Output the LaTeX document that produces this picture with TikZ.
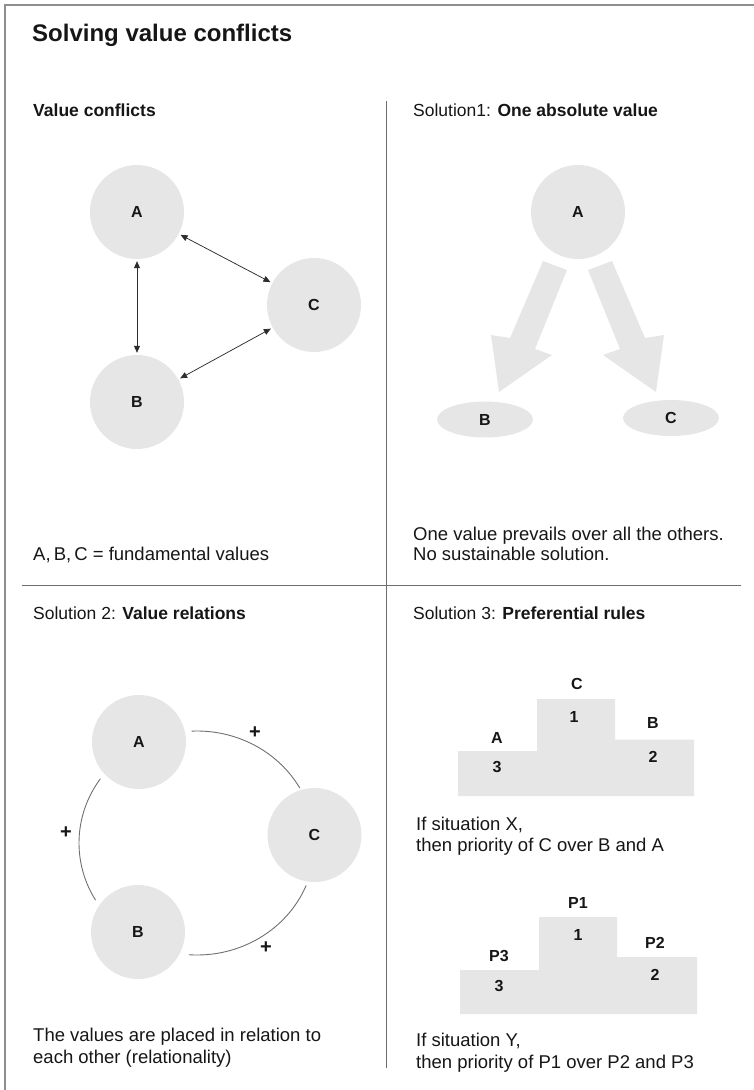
\documentclass[tikz,border=0pt]{standalone}
\usepackage{fontspec}
\setmainfont{Liberation Sans}
\usetikzlibrary{arrows.meta,shapes.geometric}
\definecolor{shade}{HTML}{E6E6E6}
\definecolor{ink}{HTML}{161616}
\definecolor{rulec}{HTML}{6E6E6E}
\definecolor{framec}{HTML}{8F8F8F}
\definecolor{arcc}{HTML}{707070}

\begin{document}
\begin{tikzpicture}[x=1pt,y=1pt,
  value/.style={circle, fill=shade, minimum size=94pt, inner sep=0pt,
    font=\bfseries\fontsize{16}{18}\selectfont, text=ink},
  flat/.style={ellipse, fill=shade, minimum width=96pt, minimum height=36pt,
    inner sep=0pt, font=\bfseries\fontsize{16}{18}\selectfont, text=ink},
  conflict/.style={{Triangle[length=7pt,width=6pt]}-{Triangle[length=7pt,width=6pt]},
    line width=0.75pt, draw=ink!90, shorten <=2pt, shorten >=2pt},
  relation/.style={draw=arcc, line width=0.9pt},
  heading/.style={anchor=base west, inner sep=0pt,
    font=\fontsize{17.5}{20}\selectfont, text=ink},
  body/.style={anchor=base west, inner sep=0pt,
    font=\fontsize{18.5}{22}\selectfont, text=ink},
  lab/.style={inner sep=0pt, font=\bfseries\fontsize{16}{18}\selectfont, text=ink},
  plus/.style={inner sep=0pt, font=\bfseries\fontsize{20}{22}\selectfont, text=ink},
  block/.style={fill=shade, draw=none},
  bigarrow/.style={fill=shade, draw=none},
]
\useasboundingbox (0,0) rectangle (754,-1090);

% page frame and quadrant rules
\draw[framec, line width=1.6pt] (5,-1090) -- (5,-5) -- (754,-5);
\draw[rulec, line width=1pt] (386,-101) -- (386,-1068);
\draw[rulec, line width=1pt] (22,-585) -- (741,-585);

% title
\node[anchor=base west, inner sep=0pt, font=\bfseries\fontsize{24}{28}\selectfont, text=ink]
  (title) at (32,-41) {Solving value conflicts};

% ---------- value conflicts ----------
\node[heading] (h1) at (33,-116) {\bfseries Value conflicts};
\node[value] (a1) at (137,-212) {A};
\node[value] (b1) at (137,-402) {B};
\node[value] (c1) at (314,-305) {C};
\draw[conflict] (a1) -- (b1);
\draw[conflict] (a1) -- (c1);
\draw[conflict] (b1) -- (c1);
\node[body] (n1) at (33,-560) {A,\,B,\,C = fundamental values};

% ---------- solution 1 ----------
\node[heading] (h2) at (413,-116) {Solution1: \textbf{One absolute value}};
\node[value] (a2) at (578,-212) {A};
\node[flat] (b2) at (485,-419.5) {B};
\node[flat] (c2) at (671,-418) {C};
\fill[bigarrow] (543,-261) -- (567,-270) -- (535,-349) -- (552,-355)
  -- (499,-392) -- (491,-335) -- (510,-338) -- cycle;
\fill[bigarrow] (612,-261) -- (588,-270) -- (620,-349) -- (603,-355)
  -- (656,-392) -- (664,-335) -- (645,-338) -- cycle;
\node[body] (n2a) at (413,-540) {One value prevails over all the others.};
\node[body] (n2b) at (413,-560) {No sustainable solution.};

% ---------- solution 2 ----------
\node[heading] (h3) at (33,-619) {Solution 2: \textbf{Value relations}};
\node[value] (a3) at (139,-742) {A};
\node[value] (c3) at (314.5,-835) {C};
\node[value] (b3) at (138,-932) {B};
\coordinate (ring) at (197,-843);
\draw[relation] (ring) ++(92.6:118 and 112) coordinate (acs)
  arc[start angle=92.6, end angle=29.4, x radius=118, y radius=112];
\draw[relation] (ring) ++(145:118 and 112) coordinate (abs)
  arc[start angle=145, end angle=210.7, x radius=118, y radius=112];
\draw[relation] (ring) ++(266:118 and 112) coordinate (bcs)
  arc[start angle=266, end angle=337.7, x radius=118, y radius=112];
\node[plus] (pac) at (255,-733) {+};
\node[plus] (pab) at (66,-833) {+};
\node[plus] (pbc) at (266,-948) {+};
\node[body] (n3a) at (33,-1041) {The values are placed in relation to};
\node[body] (n3b) at (33,-1063) {each other (relationality)};

% ---------- solution 3 ----------
\node[heading] (h4) at (413,-619) {Solution 3: \textbf{Preferential rules}};
\fill[block] (458,-796) -- (458,-751) -- (537,-751) -- (537,-699) -- (615,-699)
  -- (615,-739.5) -- (694,-739.5) -- (694,-796) -- cycle;
\node[lab] (x1) at (577,-684) {C};
\node[lab] (x1r) at (574,-717) {1};
\node[lab] (x3) at (497,-738) {A};
\node[lab] (x3r) at (497,-767) {3};
\node[lab] (x2) at (653,-723) {B};
\node[lab] (x2r) at (653,-757) {2};
\node[body] (n4a) at (416,-830) {If situation X,};
\node[body] (n4b) at (416,-851) {then priority of C over B and A};

\fill[block] (460,-1014) -- (460,-970) -- (539,-970) -- (539,-917) -- (617,-917)
  -- (617,-957) -- (697,-957) -- (697,-1014) -- cycle;
\node[lab] (y1) at (578,-903) {P1};
\node[lab] (y1r) at (578,-935) {1};
\node[lab] (y3) at (499,-956) {P3};
\node[lab] (y3r) at (499,-986) {3};
\node[lab] (y2) at (655,-943) {P2};
\node[lab] (y2r) at (655,-975) {2};
\node[body] (n5a) at (416,-1046) {If situation Y,};
\node[body] (n5b) at (416,-1068) {then priority of P1 over P2 and P3};
\end{tikzpicture}
\end{document}
